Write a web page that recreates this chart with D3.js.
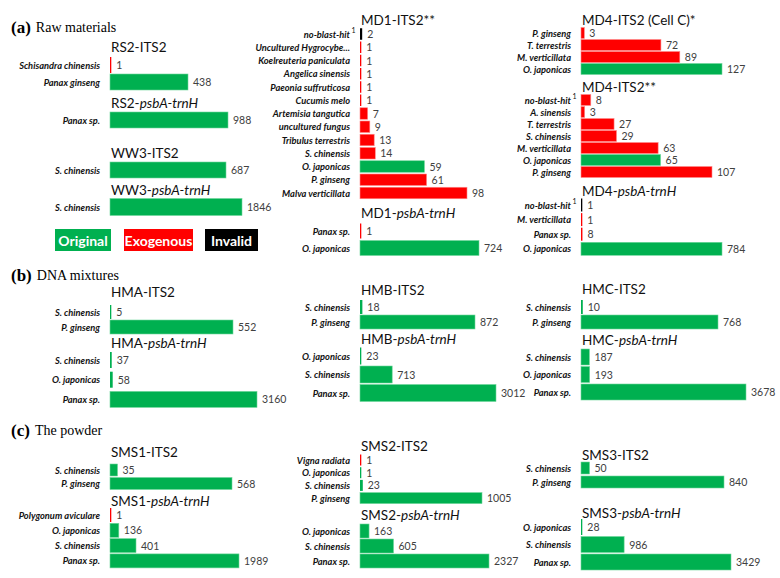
<!DOCTYPE html>
<html><head><meta charset="utf-8">
<script src="https://cdn.jsdelivr.net/npm/d3@7"></script>
<style>body{margin:0;background:#fff}</style>
</head><body>
<svg id="c" width="780" height="578"></svg>
<script>
// ---------- DATA ----------
const titlePrefix = ["RS2-","RS2-","WW3-","WW3-","MD1-","MD1-","MD4-","MD4-","MD4-",
  "HMA-","HMA-","HMB-","HMB-","HMC-","HMC-","SMS1-","SMS1-","SMS2-","SMS2-","SMS3-","SMS3-"];
const titleMarker = ["ITS2","psbA-trnH","ITS2","psbA-trnH","ITS2**","psbA-trnH","ITS2 (Cell C)*","ITS2**","psbA-trnH",
  "ITS2","psbA-trnH","ITS2","psbA-trnH","ITS2","psbA-trnH","ITS2","psbA-trnH","ITS2","psbA-trnH","ITS2","psbA-trnH"];
const categories = [
  ["Schisandra chinensis","Panax ginseng"],
  ["Panax sp."],
  ["S. chinensis"],
  ["S. chinensis"],
  ["no-blast-hit","Uncultured Hygrocybe...","Koelreuteria paniculata","Angelica sinensis","Paeonia suffruticosa","Cucumis melo","Artemisia tangutica","uncultured fungus","Tribulus terrestris","S. chinensis","O. japonicas","P. ginseng","Malva verticillata"],
  ["Panax sp.","O. japonicas"],
  ["P. ginseng","T. terrestris","M. verticillata","O. japonicas"],
  ["no-blast-hit","A. sinensis","T. terrestris","S. chinensis","M. verticillata","O. japonicas","P. ginseng"],
  ["no-blast-hit","M. verticillata","Panax sp.","O. japonicas"],
  ["S. chinensis","P. ginseng"],
  ["S. chinensis","O. japonicas","Panax sp."],
  ["S. chinensis","P. ginseng"],
  ["O. japonicas","S. chinensis","Panax sp."],
  ["S. chinensis","P. ginseng"],
  ["S. chinensis","O. japonicas","Panax sp."],
  ["S. chinensis","P. ginseng"],
  ["Polygonum aviculare","O. japonicas","S. chinensis","Panax sp."],
  ["Vigna radiata","O. japonicas","S. chinensis","P. ginseng"],
  ["O. japonicas","S. chinensis","Panax sp."],
  ["S. chinensis","P. ginseng"],
  ["O. japonicas","S. chinensis","Panax sp."]
];
const values = [
  [1,438],[988],[687],[1846],
  [2,1,1,1,1,1,7,9,13,14,59,61,98],
  [1,724],
  [3,72,89,127],
  [8,3,27,29,63,65,107],
  [1,1,8,784],
  [5,552],[37,58,3160],
  [18,872],[23,713,3012],
  [10,768],[187,193,3678],
  [35,568],[1,136,401,1989],
  [1,1,23,1005],[163,605,2327],
  [50,840],[28,986,3429]
];
// O = original, E = exogenous, I = invalid
const kinds = [
  ["E","O"],["O"],["O"],["O"],
  ["I","E","E","E","E","E","E","E","E","E","O","E","E"],
  ["E","O"],
  ["E","E","E","O"],
  ["E","E","E","E","E","O","E"],
  ["I","E","E","O"],
  ["O","O"],["O","O","O"],
  ["O","O"],["O","O","O"],
  ["O","O"],["O","O","O"],
  ["O","O"],["E","O","O","O"],
  ["E","O","O","O"],["O","O","O"],
  ["O","O"],["O","O","O"]
];
const legendLabels = ["Original","Exogenous","Invalid"];
const sectionLetters = ["(a)","(b)","(c)"];
const sectionNames = ["Raw materials","DNA mixtures","The powder"];

// ---------- LAYOUT ----------
// x: axis x, ty: title centre y, y0: first row centre, step: row step, bh: bar height, w: width of longest bar
const layout = [
  {x:110,ty:47,y0:65,step:17,bh:16,w:78},
  {x:110,ty:103,y0:120,step:17,bh:16,w:118},
  {x:110,ty:153,y0:170,step:17,bh:16,w:116},
  {x:110,ty:190,y0:207,step:17,bh:17,w:132},
  {x:360,ty:20,y0:34,step:13.25,bh:11.5,w:107},
  {x:360,ty:213,y0:231,step:17,bh:15,w:119},
  {x:581,ty:20,y0:33,step:12,bh:11,w:141},
  {x:581,ty:87,y0:100,step:12,bh:11,w:131},
  {x:581,ty:191,y0:205,step:14.6,bh:13,w:141},
  {x:110,ty:292,y0:312,step:15,bh:14,w:123},
  {x:110,ty:343,y0:360,step:19.7,bh:16,w:147},
  {x:360,ty:290,y0:307,step:15,bh:14,w:115},
  {x:360,ty:339,y0:356,step:18.5,bh:17,w:136},
  {x:581,ty:289,y0:307,step:15,bh:14,w:137},
  {x:581,ty:340,y0:357,step:17.5,bh:16,w:165},
  {x:110,ty:452,y0:470,step:13.5,bh:12,w:122},
  {x:110,ty:501,y0:515,step:15.3,bh:14,w:129},
  {x:360,ty:446,y0:460,step:12.7,bh:11,w:122},
  {x:360,ty:515,y0:531,step:15,bh:14,w:129},
  {x:581,ty:455,y0:468,step:14,bh:12,w:143},
  {x:581,ty:513,y0:527,step:17.5,bh:16,w:150}
];
const sectionY = [27, 275, 430];
const colors = {O:"#00b050", E:"#ff0000", I:"#000000"};
const strokes = {O:"#6fd79b", E:"#ff8a8a", I:"#555"};

const svg = d3.select("#c");

// section headings
sectionLetters.forEach((l,i)=>{
  const t = svg.append("text").attr("x",11).attr("y",sectionY[i]).attr("dominant-baseline","central")
    .attr("font-family","'Liberation Serif', serif").attr("fill","#000");
  t.append("tspan").attr("font-weight","bold").attr("font-size",17).text(l);
  t.append("tspan").attr("font-size",14).attr("dx",5).text(sectionNames[i]);
});

// panels
layout.forEach((L,p)=>{
  const g = svg.append("g");
  const vals = values[p];
  const x = d3.scaleLinear().domain([0, d3.max(vals)]).range([0, L.w]);
  const cats = categories[p];
  const pad = 1 - L.bh/L.step;
  const y = d3.scaleBand().domain(d3.range(cats.length))
    .range([L.y0 - L.step/2, L.y0 - L.step/2 + L.step*cats.length]).paddingInner(pad).paddingOuter(pad/2);
  // title
  const tt = g.append("text").attr("x",L.x+1).attr("y",L.ty).attr("dominant-baseline","central")
    .attr("font-family","Lato, 'Open Sans', sans-serif").attr("font-size",13.5).attr("fill","#111");
  tt.append("tspan").text(titlePrefix[p]);
  if (titleMarker[p].startsWith("psbA")) tt.append("tspan").attr("font-style","italic").text(titleMarker[p]);
  else tt.append("tspan").text(titleMarker[p]);

  cats.forEach((c,i)=>{
    const cy = y(i) + y.bandwidth()/2;
    const k = kinds[p][i];
    const bw = Math.max(1.3, x(vals[i]));
    g.append("rect").attr("x",L.x).attr("y",y(i)).attr("width",bw).attr("height",y.bandwidth())
      .attr("fill",colors[k]).attr("stroke",bw>3?strokes[k]:"none").attr("stroke-width",0.6);
    g.append("text").attr("x",L.x-10).attr("y",cy).attr("dominant-baseline","central").attr("text-anchor","end")
      .attr("font-family","Lato, sans-serif").attr("font-size",9.3).attr("font-weight","bold").attr("font-style","italic")
      .attr("fill","#111").text(c);
    if (c==="no-blast-hit") {
      g.append("text").attr("x",L.x-8.5).attr("y",cy-4).attr("dominant-baseline","central")
        .attr("font-family","Lato, sans-serif").attr("font-size",7).attr("fill","#111").text("1");
    }
    g.append("text").attr("x",L.x+bw+5).attr("y",cy).attr("dominant-baseline","central")
      .attr("font-family","Lato, sans-serif").attr("font-size",10.5).attr("fill","#404040").text(vals[i]);
  });
});

// legend
const legBoxes = [{x:55,w:56,k:"O"},{x:124,w:69,k:"E"},{x:205,w:53,k:"I"}];
legendLabels.forEach((l,i)=>{
  const b = legBoxes[i];
  svg.append("rect").attr("x",b.x).attr("y",229).attr("width",b.w).attr("height",22).attr("fill",colors[b.k]);
  svg.append("text").attr("x",b.x+b.w/2).attr("y",240).attr("dominant-baseline","central").attr("text-anchor","middle")
    .attr("font-family","Lato, sans-serif").attr("font-weight","bold").attr("font-size",14).attr("fill","#fff").text(l);
});
</script>
</body></html>
